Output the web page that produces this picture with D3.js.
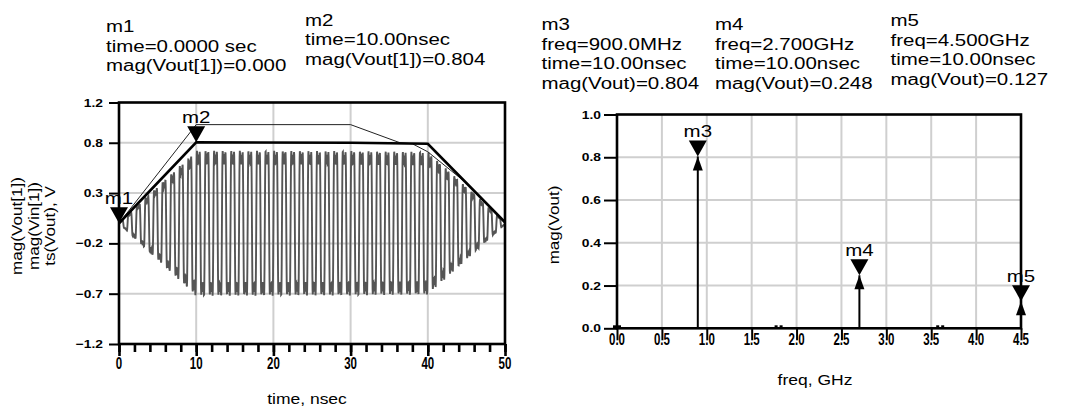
<html>
<head>
<meta charset="utf-8">
<script src="https://d3js.org/d3.v7.min.js"></script>
<style>
  body { margin: 0; background: #fff; }
  text { font-family: "Liberation Sans", Arial, sans-serif; fill: #000; }
</style>
</head>
<body>
<div id="chart"></div>
<script>

// ---- data ----
// time plot: envelopes (mag of fundamental) in ns / V
var voutTime = [0, 10, 30, 40, 50];
var voutEnv  = [0, 0.804, 0.80, 0.79, 0.01];
var vinTime  = [0, 10, 30, 36.4, 38, 40, 45, 50];
var vinEnv   = [0, 0.98, 0.98, 0.80, 0.79, 0.71, 0.40, 0.0];
var timeTicks = [0, 10, 20, 30, 40, 50];
var voltTicks = [-1.2, -0.7, -0.2, 0.3, 0.8, 1.2];

// spectrum plot
var freqGHz = [0, 0.9, 1.8, 2.7, 3.6, 4.5];
var voutMag = [0, 0.804, 0.003, 0.248, 0.003, 0.127];
var freqTicks = [0, 0.5, 1.0, 1.5, 2.0, 2.5, 3.0, 3.5, 4.0, 4.5];
var magTicks = [0, 0.2, 0.4, 0.6, 0.8, 1.0];

// markers
var tMarkName = ["m1", "m2"];
var tMarkTime = [0, 10];
var tMarkVal  = [0.000, 0.804];
var fMarkName = ["m3", "m4", "m5"];
var fMarkFreq = [0.9, 2.7, 4.5];
var fMarkVal  = [0.804, 0.248, 0.127];

var readouts = [
  {x: 106, y: 32, lines: ["m1", "time=0.0000 sec", "mag(Vout[1])=0.000"]},
  {x: 305, y: 25.5, lines: ["m2", "time=10.00nsec", "mag(Vout[1])=0.804"]},
  {x: 541.5, y: 30, lines: ["m3", "freq=900.0MHz", "time=10.00nsec", "mag(Vout)=0.804"]},
  {x: 715, y: 30, lines: ["m4", "freq=2.700GHz", "time=10.00nsec", "mag(Vout)=0.248"]},
  {x: 890.5, y: 26, lines: ["m5", "freq=4.500GHz", "time=10.00nsec", "mag(Vout)=0.127"]}
];

var W = 1075, H = 408;
var svg = d3.select("#chart").append("svg")
  .attr("width", W).attr("height", H);

function txt(parent, x, y, s, size, sx, anchor, rot, bold) {
  return parent.append("text")
    .attr("transform", "translate(" + x + "," + y + ") rotate(" + (rot || 0) + ") scale(" + sx + ",1)")
    .attr("text-anchor", anchor || "start")
    .style("font-size", size + "px")
    .style("font-weight", bold ? "bold" : "normal")
    .text(s);
}

// ---------- left: time domain ----------
var xT = d3.scaleLinear().domain([0, 50]).range([119, 505]);
var yV = d3.scaleLinear().domain([-1.2, 1.2]).range([344, 102.5]);

var left = svg.append("g");
left.append("clipPath").attr("id", "clipL").append("rect")
  .attr("x", 119).attr("y", 102.5).attr("width", 386).attr("height", 241.5);

// grid
left.selectAll(".gx").data(timeTicks.slice(1, -1)).enter().append("line")
  .attr("x1", d => xT(d)).attr("x2", d => xT(d))
  .attr("y1", yV(1.2)).attr("y2", yV(-1.2))
  .attr("stroke", "#cfcfcf").attr("stroke-width", 2);
left.selectAll(".gy").data(voltTicks.slice(1, -1)).enter().append("line")
  .attr("x1", xT(0)).attr("x2", xT(50))
  .attr("y1", d => yV(d)).attr("y2", d => yV(d))
  .attr("stroke", "#cfcfcf").attr("stroke-width", 2);

// ts(Vout): fundamental envelope times the measured harmonic content
var envScale = d3.scaleLinear().domain(voutTime).range(voutEnv);
var wave = d3.range(0, 50.0001, 0.025).map(function(t) {
  var s = 0;
  for (var k = 0; k < freqGHz.length; k++) s += voutMag[k] * Math.sin(2 * Math.PI * freqGHz[k] * t);
  return [t, envScale(t) / voutMag[1] * s];
});
var line = d3.line().x(d => xT(d[0])).y(d => yV(d[1]));
left.append("path").datum(wave)
  .attr("clip-path", "url(#clipL)")
  .attr("d", line).attr("fill", "none")
  .attr("stroke", "#555").attr("stroke-width", 1.9);

// mag(Vin[1]) thin
left.append("path").datum(d3.zip(vinTime, vinEnv))
  .attr("d", line).attr("fill", "none")
  .attr("stroke", "#222").attr("stroke-width", 1);
// mag(Vout[1]) thick
left.append("path").datum(d3.zip(voutTime, voutEnv))
  .attr("d", line).attr("fill", "none")
  .attr("stroke", "#000").attr("stroke-width", 2.6);

// frame
left.append("rect").attr("x", 119).attr("y", 102.5).attr("width", 386).attr("height", 241.5)
  .attr("fill", "none").attr("stroke", "#000").attr("stroke-width", 2.6);

// x axis ticks
var minorAx = left.append("g").attr("transform", "translate(0,344)")
  .call(d3.axisBottom(xT).tickValues(d3.range(0, 51, 2)).tickSize(8).tickFormat(""));
var majorAx = left.append("g").attr("transform", "translate(0,344)")
  .call(d3.axisBottom(xT).tickValues(timeTicks).tickSize(12).tickFormat(""));
[minorAx, majorAx].forEach(function(g) {
  g.select(".domain").remove();
  g.selectAll("line").attr("stroke", "#000").attr("stroke-width", 2.6);
});
timeTicks.forEach(function(v) { txt(left, xT(v), 369, String(v), 16, 0.72, "middle", 0, true); });

// y axis ticks
var yAxL = left.append("g").attr("transform", "translate(119,0)")
  .call(d3.axisLeft(yV).tickValues(voltTicks).tickSize(10).tickFormat(""));
yAxL.select(".domain").remove();
yAxL.selectAll("line").attr("stroke", "#000").attr("stroke-width", 2);
voltTicks.forEach(function(v) { txt(left, 103, yV(v) + 4, d3.format(".1f")(v), 11.5, 1.2, "end", 0, true); });

// axis labels
txt(left, 307, 404, "time, nsec", 14, 1.25, "middle");
txt(left, 22, 226, "mag(Vout[1])", 14, 1.22, "middle", -90);
txt(left, 38.5, 226, "mag(Vin[1])", 14, 1.22, "middle", -90);
txt(left, 55, 226, "ts(Vout), V", 14, 1.22, "middle", -90);

// markers
function downTri(g, x, y, name) {
  g.append("path")
    .attr("d", "M" + (x - 9) + "," + (y - 16) + "L" + (x + 9) + "," + (y - 16) + "L" + x + "," + y + "Z")
    .attr("fill", "#000");
  txt(g, x, y - 19, name, 16, 1.28, "middle");
}
tMarkName.forEach(function(n, i) { downTri(left, xT(tMarkTime[i]), yV(tMarkVal[i]), n); });

// ---------- right: spectrum ----------
var xF = d3.scaleLinear().domain([0, 4.5]).range([617, 1021]);
var yM = d3.scaleLinear().domain([0, 1]).range([328.3, 114.5]);
var right = svg.append("g");

right.selectAll(".gx").data(freqTicks.slice(1, -1)).enter().append("line")
  .attr("x1", d => xF(d)).attr("x2", d => xF(d))
  .attr("y1", yM(1)).attr("y2", yM(0))
  .attr("stroke", "#cfcfcf").attr("stroke-width", 2);
right.selectAll(".gy").data(magTicks.slice(1, -1)).enter().append("line")
  .attr("x1", xF(0)).attr("x2", xF(4.5))
  .attr("y1", d => yM(d)).attr("y2", d => yM(d))
  .attr("stroke", "#cfcfcf").attr("stroke-width", 2);

right.append("rect").attr("x", 617).attr("y", 114.5).attr("width", 404).attr("height", 213.8)
  .attr("fill", "none").attr("stroke", "#000").attr("stroke-width", 2.6);

// stems
freqGHz.forEach(function(f, i) {
  var x = xF(f), y = yM(voutMag[i]), y0 = yM(0);
  if (y0 - y > 12) {
    right.append("line").attr("x1", x).attr("x2", x).attr("y1", y).attr("y2", y0)
      .attr("stroke", "#000").attr("stroke-width", 2);
    right.append("path")
      .attr("d", "M" + x + "," + y + "L" + (x + 5) + "," + (y + 14) + "L" + (x - 5) + "," + (y + 14) + "Z")
      .attr("fill", "#000");
  } else {
    right.append("rect").attr("x", x - 4).attr("y", y0 - 3).attr("width", 3).attr("height", 3).attr("fill", "#000");
    right.append("rect").attr("x", x + 1).attr("y", y0 - 3).attr("width", 3).attr("height", 3).attr("fill", "#000");
  }
});

var xAxR = right.append("g").attr("transform", "translate(0,328.3)")
  .call(d3.axisBottom(xF).tickValues(freqTicks).tickSize(12).tickFormat(""));
xAxR.select(".domain").remove();
xAxR.selectAll("line").attr("stroke", "#000").attr("stroke-width", 2);
freqTicks.forEach(function(v) { txt(right, xF(v), 345, d3.format(".1f")(v), 16, 0.72, "middle", 0, true); });

var yAxR = right.append("g").attr("transform", "translate(617,0)")
  .call(d3.axisLeft(yM).tickValues(magTicks).tickSize(13).tickFormat(""));
yAxR.select(".domain").remove();
yAxR.selectAll("line").attr("stroke", "#000").attr("stroke-width", 2);
magTicks.forEach(function(v) { txt(right, 601, yM(v) + 4, d3.format(".1f")(v), 11.5, 1.2, "end", 0, true); });

txt(right, 815, 385, "freq, GHz", 14, 1.25, "middle");
txt(right, 559, 225, "mag(Vout)", 14, 1.22, "middle", -90);

fMarkName.forEach(function(n, i) { downTri(right, xF(fMarkFreq[i]), yM(fMarkVal[i]), n); });

// ---------- marker readouts ----------
readouts.forEach(function(r) {
  r.lines.forEach(function(s, j) { txt(svg, r.x, r.y + j * 19.7, s, 16, 1.28, "start"); });
});

</script>
</body>
</html>
